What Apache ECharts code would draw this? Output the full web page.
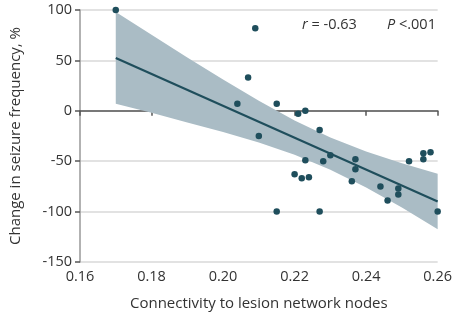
<!DOCTYPE html>
<html><head><meta charset="utf-8">
<script src="https://cdn.jsdelivr.net/npm/echarts@6/dist/echarts.min.js"></script>
<style>html,body{margin:0;padding:0;background:#fff}#c{width:455px;height:316px}</style>
</head><body><div id="c"></div>
<script>
const pointsX = [0.170,0.209,0.207,0.204,0.215,0.221,0.223,0.210,0.227,0.223,0.220,0.222,0.224,0.215,0.227,0.228,0.230,0.237,0.237,0.236,0.244,0.246,0.249,0.249,0.252,0.256,0.256,0.258,0.260];
const pointsY = [100,82,33,7,7,-3,0,-25,-19,-49,-63,-67,-66,-100,-100,-50,-44,-48,-58,-70,-75,-89,-77,-83,-50,-42,-48,-41,-100];
const bandX = [0.17,0.18,0.19,0.20,0.21,0.22,0.23,0.24,0.25,0.26];
const bandUpper = [98,75.5,53,31,10,-9.5,-26.5,-40.5,-52,-62.5];
const bandLower = [7,-2,-11.5,-21,-31.5,-43.5,-58.5,-76,-96,-117.5];
const fitX = [0.17,0.26];
const fitY = [52.5,-90];
const xTicks = [0.16,0.18,0.20,0.22,0.24,0.26];
const yTicks = [-150,-100,-50,0,50,100];

const FONT = 'Open Sans';
const TXT = '#333';
const chart = echarts.init(document.getElementById('c'));
chart.setOption({
  animation:false,
  grid:{left:80,right:13,top:10,bottom:51},
  xAxis:{type:'value',min:xTicks[0],max:xTicks[xTicks.length-1],interval:0.02,
    name:'Connectivity to lesion network nodes',nameLocation:'middle',nameGap:34,
    nameTextStyle:{fontFamily:FONT,fontSize:15,color:TXT},
    axisLine:{lineStyle:{color:'#555',width:1.5}},
    axisTick:{length:5,lineStyle:{color:'#555',width:1.5}},
    axisLabel:{fontFamily:FONT,fontSize:14.5,color:TXT,margin:7,formatter:v=>v.toFixed(2)},
    splitLine:{show:false}},
  yAxis:{type:'value',min:yTicks[0],max:yTicks[yTicks.length-1],interval:50,
    name:'Change in seizure frequency, %',nameLocation:'middle',nameGap:57,
    nameTextStyle:{fontFamily:FONT,fontSize:15,color:TXT},
    axisLine:{show:true,lineStyle:{color:'#999',width:1.5}},
    axisTick:{show:true,length:5,lineStyle:{color:'#555',width:1.5}},
    axisLabel:{fontFamily:FONT,fontSize:14.5,color:TXT,margin:8,formatter:v=>String(v)},
    splitLine:{show:true,lineStyle:{color:'#d9d9d9',width:1.5}}},
  series:[
    {type:'custom',silent:true,z:1,
      data:[0],
      renderItem:function(params,api){
        const pts=[];
        for(let i=0;i<bandX.length;i++) pts.push(api.coord([bandX[i],bandUpper[i]]));
        for(let i=bandX.length-1;i>=0;i--) pts.push(api.coord([bandX[i],bandLower[i]]));
        return {type:'polygon',shape:{points:pts,smooth:0},style:{fill:'#aabcc5'}};
      }},
    {type:'line',z:3,data:fitX.map((x,i)=>[x,fitY[i]]),symbol:'none',lineStyle:{color:'#1f4e5c',width:2.2}},
    {type:'scatter',z:4,data:pointsX.map((x,i)=>[x,pointsY[i]]),symbolSize:6.5,itemStyle:{color:'#1f4e5c',opacity:1}}
  ],
  graphic:[
    {type:'text',left:302,top:17,style:{text:'{i|r} = -0.63',rich:{i:{fontStyle:'italic',fontFamily:FONT,fontSize:14.5,fill:TXT}},fontFamily:FONT,fontSize:14.5,fill:TXT}},
    {type:'text',left:387,top:17,style:{text:'{i|P} <.001',rich:{i:{fontStyle:'italic',fontFamily:FONT,fontSize:14.5,fill:TXT}},fontFamily:FONT,fontSize:14.5,fill:TXT}}
  ]
});
</script></body></html>
